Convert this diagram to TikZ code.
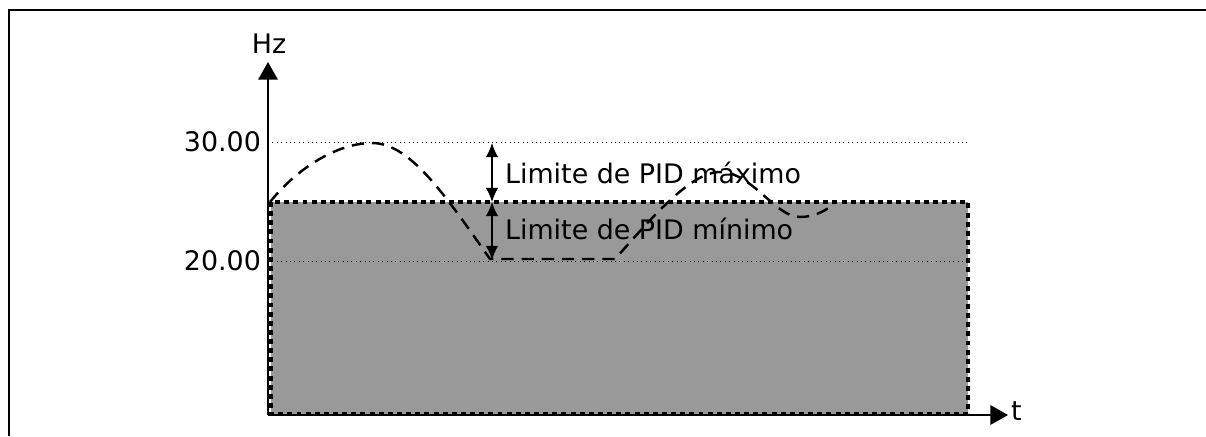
\documentclass[tikz,border=0pt]{standalone}
\usepackage{fontspec}
\setmainfont{DejaVu Sans}
\usetikzlibrary{arrows.meta,positioning}
\definecolor{pidFill}{HTML}{999999}
\tikzset{
    axisLine/.style={line width=1.1pt, -{Triangle[length=10pt,width=11pt]}},
    refLine/.style={line width=0.5pt, dotted},
    bandBox/.style={fill=pidFill, line width=2pt, dash pattern=on 2.8pt off 2.4pt},
    curveLine/.style={line width=1.4pt, dash pattern=on 7pt off 4.5pt},
    limArrow/.style={line width=0.7pt, {Latex[length=8pt,width=7pt]}-{Latex[length=8pt,width=7pt]}},
    lbl/.style={font=\fontsize{15.3}{18}\selectfont, inner sep=1pt}
}
\begin{document}
\begin{tikzpicture}[x=0.02cm, y=-0.02cm]
\useasboundingbox (0,0) rectangle (1206,436);
% frame
\draw[line width=1.1pt] (9,436) -- (9,10) -- (1206,10);

% shaded band
\draw[bandBox] (271,202) rectangle (968,414);

% reference levels
\coordinate (hi0) at (268,142);
\coordinate (hi1) at (968,142);
\coordinate (lo0) at (268,261);
\coordinate (lo1) at (968,261);
\draw[refLine] (hi0) -- (hi1);
\draw[refLine] (lo0) -- (lo1);
\node[lbl, anchor=east] (v30) at (263,142) {30.00};
\node[lbl, anchor=east] (v20) at (263,261) {20.00};

% axes
\coordinate (orig) at (268,415);
\coordinate (ytop) at (268,62);
\coordinate (xend) at (1008,415);
\draw[axisLine] (orig) -- (ytop);
\draw[axisLine] (orig) -- (xend);
\node[lbl] (hz) at (269,44) {Hz};
\node[lbl, anchor=west] (tlab) at (1009,411) {t};

% PID output
\draw[curveLine] (270,202) .. controls (300,165) and (340,143) .. (372,143)
    .. controls (410,143) and (445,195) .. (490,259) -- (615,259)
    .. controls (650,220) and (690,172) .. (720,172)
    .. controls (752,172) and (775,217) .. (800,217)
    .. controls (815,217) and (828,210) .. (835,202);

% limits
\coordinate (mx) at (492,143);
\coordinate (md) at (492,202);
\coordinate (mn) at (492,260);
\draw[limArrow] (mx) -- (md);
\draw[limArrow] (md) -- (mn);
\node[lbl, anchor=west] (maxlab) at (503,173) {Limite de PID máximo};
\node[lbl, anchor=west] (minlab) at (503,229) {Limite de PID mínimo};
\end{tikzpicture}
\end{document}
